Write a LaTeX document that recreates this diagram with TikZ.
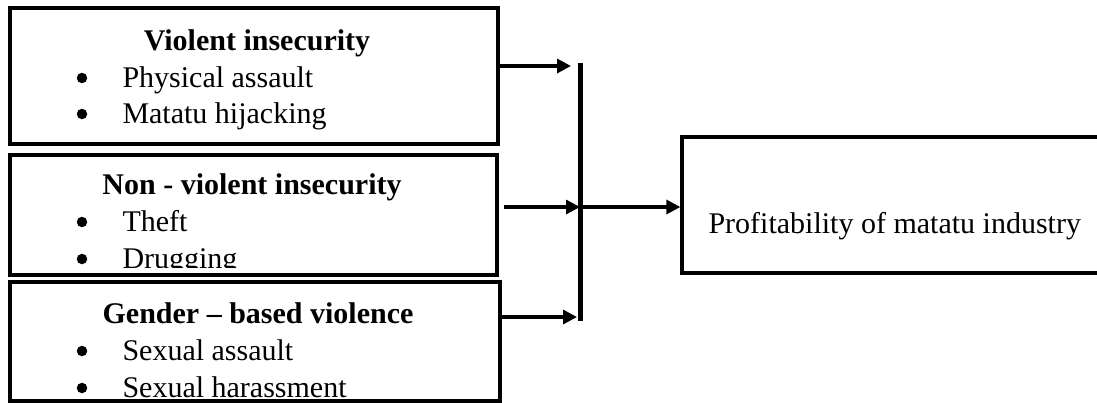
\documentclass[tikz,border=0pt]{standalone}
\usepackage{fontspec}
\setmainfont{Liberation Serif}
\usetikzlibrary{arrows.meta}

\begin{document}
\begin{tikzpicture}[
    x=0.4pt, y=-0.4pt,
    >={Triangle[length=5.6pt,width=5.6pt]},
    every node/.style={font=\fontsize{12}{14.4}\selectfont},
    box/.style={rectangle, draw=black, line width=1.3pt, inner sep=0pt},
    arr/.style={->, draw=black, line width=1.3pt},
    bar/.style={draw=black, line width=2pt},
    head/.style={font=\fontsize{12}{14.4}\selectfont\bfseries, anchor=base},
    item/.style={anchor=base west, inner sep=0pt},
    dot/.style={circle, fill=black, minimum size=4.2pt, inner sep=0pt},
  ]
  \useasboundingbox (0,0) rectangle (1097,402);
  \clip (0,0) rectangle (1097,402);

  %% ---------------- left: the three boxes ----------------
  \node[box, minimum width=195.2pt, minimum height=54.4pt] (vis) at (254,76) {};
  \node[box, minimum width=194.8pt, minimum height=48pt] (nvis) at (253.5,215) {};
  \node[box, minimum width=196pt, minimum height=47.6pt] (gbv) at (255,341.5) {};

  \node[head] (visT) at (257,50) {Violent insecurity};
  \foreach \t/\y [count=\i] in {Physical assault/87, Matatu hijacking/123} {
    \node[dot] (vd\i) at (82,\y-9) {};
    \node[item] (vi\i) at (122,\y) {\t};
  }

  % text of the middle box is cut off above its lower border
  \begin{scope}
    \clip (10,155) rectangle (497,267);
    \node[head] (nvisT) at (252,194) {Non - violent insecurity};
    \foreach \t/\y [count=\i] in {Theft/231, Drugging/268} {
      \node[dot] (nd\i) at (82,\y-9) {};
      \node[item] (ni\i) at (122,\y) {\t};
    }
  \end{scope}

  \node[head] (gbvT) at (258,323) {Gender – based violence};
  \foreach \t/\y [count=\i] in {Sexual assault/360, Sexual harassment/397} {
    \node[dot] (gd\i) at (82,\y-9) {};
    \node[item] (gi\i) at (122,\y) {\t};
  }

  %% ---------------- right: outcome box ----------------
  \node[box, minimum width=171.2pt, minimum height=54.4pt] (prof) at (896,205) {};
  \node[item] (profT) at (708,233) {Profitability of matatu industry};

  %% ---------------- connectors ----------------
  \coordinate (bartop) at (580,63);
  \coordinate (barbot) at (580,321);
  \coordinate (j1) at (571,66);
  \coordinate (j2) at (580,207);
  \coordinate (j3) at (577,317);

  \draw[arr] (vis.east |- j1) -- (j1);
  \draw[arr, shorten <=2pt] (nvis.east |- j2) -- (j2);
  \draw[arr] (gbv.east |- j3) -- (j3);
  \draw[bar] (bartop) -- (barbot);
  \draw[arr] (j2) -- (prof.west |- j2);

\end{tikzpicture}
\end{document}
